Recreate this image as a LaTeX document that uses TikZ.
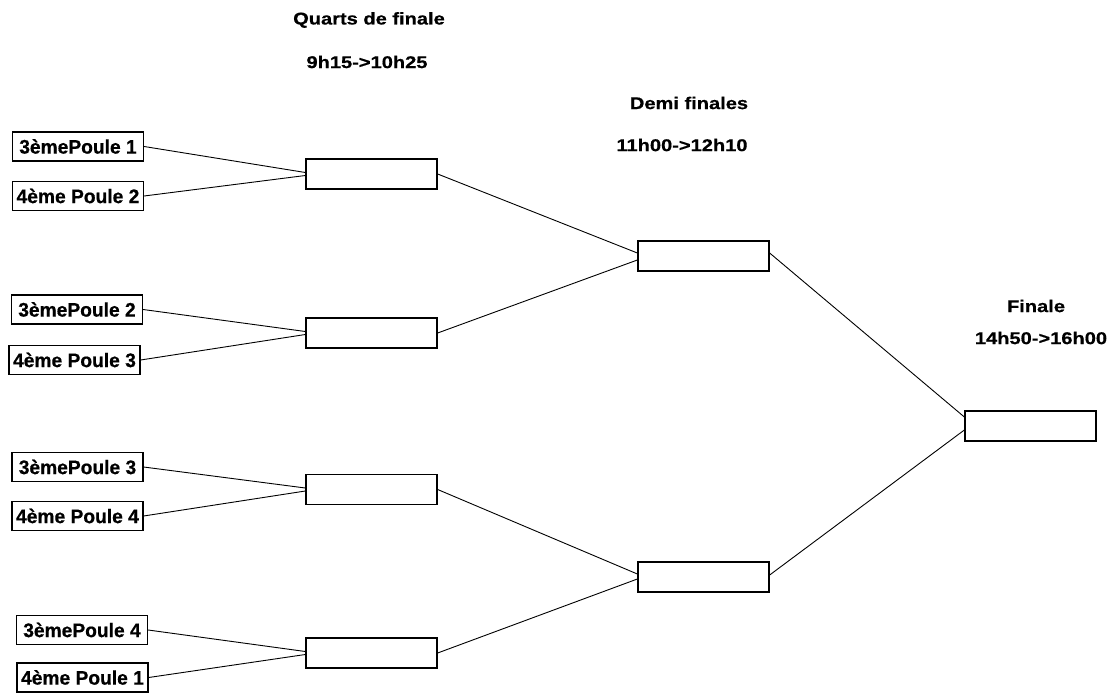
\documentclass[tikz,border=0pt]{standalone}
\usepackage{fontspec}
\setmainfont{Liberation Sans}
\newfontfamily\titlefont{Liberation Sans Bold}[FakeStretch=1.18,FakeBold=0.6]
\newfontfamily\teamfont{Liberation Sans Bold}[FakeStretch=0.98,FakeBold=0.6]
\begin{document}
\begin{tikzpicture}[x=1pt,y=-1pt,
  team/.style={draw,line width=1.3pt,rectangle,minimum width=131pt,minimum height=29pt,inner sep=0pt,font=\fontsize{19.6}{21}\teamfont},
  match/.style={draw,line width=1.3pt,rectangle,minimum width=131pt,minimum height=30pt,inner sep=0pt},
  title/.style={font=\fontsize{17}{18}\titlefont,inner sep=0pt},
  link/.style={line width=0.9pt}]
\useasboundingbox[fill=white] (0,0) rectangle (1111,693);
% titles
\node[title] (t1) at (369,20) {Quarts de finale};
\node[title] (t2) at (367,62) {9h15->10h25};
\node[title] (t3) at (689,103) {Demi finales};
\node[title] (t4) at (682,145) {11h00->12h10};
\node[title] (t5) at (1036,306) {Finale};
\node[title] (t6) at (1041,338) {14h50->16h00};
% teams
\node[team] (L1) at (78,146.5) {3èmePoule 1};
\node[team] (L2) at (78,196) {4ème Poule 2};
\node[team] (L3) at (77,309.5) {3èmePoule 2};
\node[team] (L4) at (74.5,360) {4ème Poule 3};
\node[team] (L5) at (77.5,467) {3èmePoule 3};
\node[team] (L6) at (77.5,516) {4ème Poule 4};
\node[team] (L7) at (82,630) {3èmePoule 4};
\node[team] (L8) at (82.5,677.5) {4ème Poule 1};
% quarter finals
\node[match] (Q1) at (371.5,174) {};
\node[match] (Q2) at (371.5,333) {};
\node[match] (Q3) at (371.5,489.5) {};
\node[match] (Q4) at (371.5,653) {};
% semi finals
\node[match] (S1) at (703.5,256) {};
\node[match] (S2) at (703.5,577) {};
% final
\node[match] (F) at (1030.5,426) {};
% connectors
\draw[link] (L1.east) -- ([yshift=1.5pt]Q1.west);
\draw[link] (L2.east) -- ([yshift=-1.5pt]Q1.west);
\draw[link] (L3.east) -- ([yshift=1.5pt]Q2.west);
\draw[link] (L4.east) -- ([yshift=-1.5pt]Q2.west);
\draw[link] (L5.east) -- ([yshift=1.5pt]Q3.west);
\draw[link] (L6.east) -- ([yshift=-1.5pt]Q3.west);
\draw[link] (L7.east) -- ([yshift=1.5pt]Q4.west);
\draw[link] (L8.east) -- ([yshift=-1.5pt]Q4.west);
\draw[link] (Q1.east) -- ([yshift=3pt]S1.west);
\draw[link] (Q2.east) -- ([yshift=-4pt]S1.west);
\draw[link] (Q3.east) -- ([yshift=3pt]S2.west);
\draw[link] (Q4.east) -- ([yshift=-2pt]S2.west);
\draw[link] ([yshift=3pt]S1.east) -- ([yshift=9pt]F.west);
\draw[link] ([yshift=2pt]S2.east) -- ([yshift=-4pt]F.west);
\end{tikzpicture}
\end{document}
